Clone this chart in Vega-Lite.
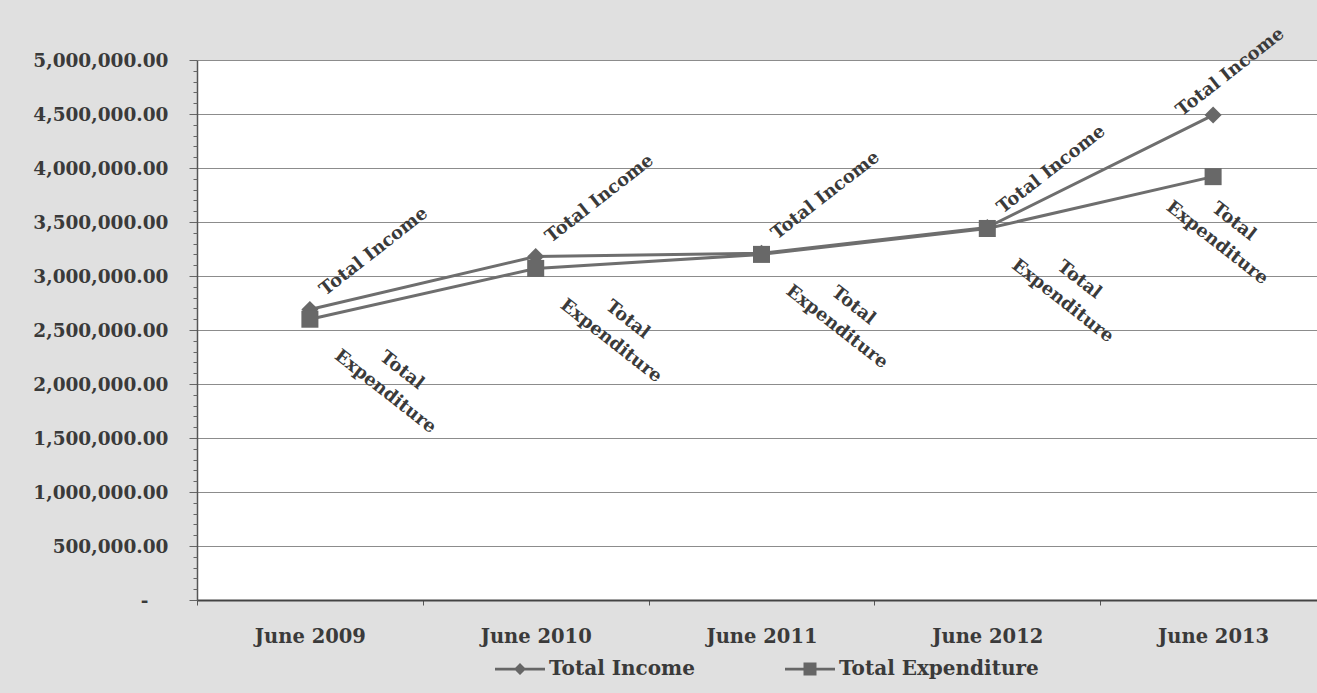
{
  "$schema": "https://vega.github.io/schema/vega-lite/v6.json",
  "autosize": {"type": "none"},
  "width": 1120,
  "height": 540,
  "padding": {"left": 197, "top": 60, "right": 0, "bottom": 93},
  "background": "#e0e0e0",
  "view": {"fill": "#ffffff", "stroke": null},
  "config": {
    "font": "DejaVu Serif",
    "axis": {
      "labelFont": "DejaVu Serif",
      "labelFontWeight": "bold",
      "labelColor": "#3a3a3a",
      "title": null
    }
  },
  "data": {
    "values": [
      {"period": "June 2009", "series": "Total Income", "value": 2690000},
      {"period": "June 2010", "series": "Total Income", "value": 3180000},
      {"period": "June 2011", "series": "Total Income", "value": 3210000},
      {"period": "June 2012", "series": "Total Income", "value": 3450000},
      {"period": "June 2013", "series": "Total Income", "value": 4490000},
      {"period": "June 2009", "series": "Total Expenditure", "value": 2600000},
      {"period": "June 2010", "series": "Total Expenditure", "value": 3070000},
      {"period": "June 2011", "series": "Total Expenditure", "value": 3200000},
      {"period": "June 2012", "series": "Total Expenditure", "value": 3440000},
      {"period": "June 2013", "series": "Total Expenditure", "value": 3920000}
    ]
  },
  "encoding": {
    "x": {
      "field": "period",
      "type": "nominal",
      "sort": ["June 2009", "June 2010", "June 2011", "June 2012", "June 2013"],
      "scale": {"type": "band", "range": [0, 1129], "paddingInner": 0, "paddingOuter": 0},
      "axis": {
        "labelAngle": 0,
        "labelFontSize": 19.5,
        "labelPadding": 22,
        "tickBand": "extent",
        "tickSize": 5,
        "tickColor": "#555555",
        "domainColor": "#444444",
        "domainWidth": 2,
        "grid": false
      }
    },
    "y": {
      "field": "value",
      "type": "quantitative",
      "scale": {"domain": [0, 5000000], "nice": false, "zero": true}
    }
  },
  "layer": [
    {
      "mark": {"type": "line", "color": "#6e6e6e", "strokeWidth": 3},
      "encoding": {
        "detail": {"field": "series", "type": "nominal"},
        "y": {
          "field": "value",
          "type": "quantitative",
          "axis": {
            "orient": "left",
            "values": [0, 500000, 1000000, 1500000, 2000000, 2500000, 3000000, 3500000, 4000000, 4500000, 5000000],
            "labelExpr": "datum.value === 0 ? '-' : format(datum.value, ',.2f')",
            "labelFontSize": 18.5,
            "labelPadding": {"condition": {"test": "datum.value === 0", "value": 41}, "value": 21},
            "tickSize": 8,
            "tickColor": "#666666",
            "domainColor": "#555555",
            "domainWidth": 1.5,
            "grid": true,
            "gridColor": "#8c8c8c",
            "gridWidth": 1
          }
        }
      }
    },
    {
      "mark": {"type": "point", "filled": true, "color": "#686868", "opacity": 1, "size": 290},
      "encoding": {
        "shape": {
          "field": "series",
          "type": "nominal",
          "scale": {"domain": ["Total Income", "Total Expenditure"], "range": ["diamond", "square"]},
          "legend": null
        },
        "y": {
          "field": "value",
          "type": "quantitative",
          "axis": {
            "orient": "left",
            "values": [100000, 200000, 300000, 400000, 600000, 700000, 800000, 900000, 1100000, 1200000, 1300000, 1400000, 1600000, 1700000, 1800000, 1900000, 2100000, 2200000, 2300000, 2400000, 2600000, 2700000, 2800000, 2900000, 3100000, 3200000, 3300000, 3400000, 3600000, 3700000, 3800000, 3900000, 4100000, 4200000, 4300000, 4400000, 4600000, 4700000, 4800000, 4900000],
            "labels": false,
            "domain": false,
            "grid": false,
            "tickSize": 4,
            "tickColor": "#666666"
          }
        }
      }
    },
    {
      "transform": [{"filter": "datum.value < 0"}],
      "mark": {"type": "point", "filled": true, "color": "#666666", "opacity": 1},
      "encoding": {
        "shape": {
          "field": "series",
          "type": "nominal",
          "scale": {
            "domain": ["Total Income", "Total Expenditure"],
            "range": [
              "M-1,-0.055H1V0.055H-1ZM0,-0.24L0.24,0L0,0.24L-0.24,0Z",
              "M-1,-0.055H1V0.055H-1ZM-0.26,-0.26H0.26V0.26H-0.26Z"
            ]
          },
          "legend": {
            "orient": "none",
            "legendX": 298,
            "legendY": 584,
            "direction": "horizontal",
            "title": null,
            "labelFont": "DejaVu Serif",
            "labelFontWeight": "bold",
            "labelFontSize": 20,
            "labelColor": "#3a3a3a",
            "labelLimit": 400,
            "labelOffset": 4,
            "columnPadding": 90,
            "symbolSize": 2500,
            "symbolOpacity": 1,
            "symbolFillColor": "#666666",
            "symbolStrokeWidth": 0
          }
        },
        "y": {"field": "value", "type": "quantitative", "axis": null}
      }
    },
    {
      "transform": [{"filter": "datum.series === 'Total Income' && datum.period !== 'June 2013'"}],
      "mark": {"type": "text", "angle": 322, "align": "center", "baseline": "middle", "dx": 86, "dy": -6, "font": "DejaVu Serif", "fontWeight": "bold", "fontSize": 18, "color": "#3a3a3a"},
      "encoding": {"text": {"field": "series"}, "y": {"field": "value", "type": "quantitative", "axis": null}}
    },
    {
      "transform": [{"filter": "datum.series === 'Total Income' && datum.period === 'June 2013'"}],
      "mark": {"type": "text", "angle": 322, "align": "center", "baseline": "middle", "dx": 40, "dy": -23, "font": "DejaVu Serif", "fontWeight": "bold", "fontSize": 18, "color": "#3a3a3a"},
      "encoding": {"text": {"field": "series"}, "y": {"field": "value", "type": "quantitative", "axis": null}}
    },
    {
      "transform": [{"filter": "datum.series === 'Total Expenditure' && datum.period !== 'June 2013'"}],
      "mark": {"type": "text", "angle": 38, "align": "center", "baseline": "middle", "lineBreak": " ", "lineHeight": 27, "dx": 104, "dy": -16, "font": "DejaVu Serif", "fontWeight": "bold", "fontSize": 18, "color": "#3a3a3a"},
      "encoding": {"text": {"field": "series"}, "y": {"field": "value", "type": "quantitative", "axis": null}}
    },
    {
      "transform": [{"filter": "datum.series === 'Total Expenditure' && datum.period === 'June 2013'"}],
      "mark": {"type": "text", "angle": 38, "align": "center", "baseline": "middle", "lineBreak": " ", "lineHeight": 27, "dx": 44, "dy": 23, "font": "DejaVu Serif", "fontWeight": "bold", "fontSize": 18, "color": "#3a3a3a"},
      "encoding": {"text": {"field": "series"}, "y": {"field": "value", "type": "quantitative", "axis": null}}
    }
  ],
  "resolve": {"axis": {"y": "independent"}, "scale": {"shape": "independent"}}
}
